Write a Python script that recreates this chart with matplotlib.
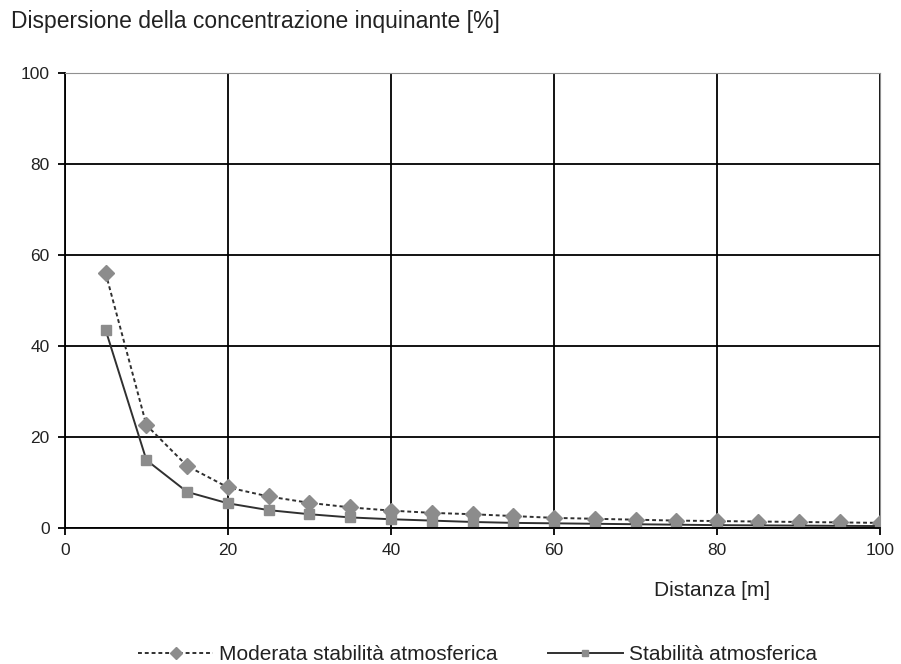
import numpy as np
import matplotlib.pyplot as plt

plt.rcParams['font.family'] = ['Liberation Sans', 'DejaVu Sans']
plt.rcParams['text.color'] = '#222222'

dist = [5, 10, 15, 20, 25, 30, 35, 40, 45, 50, 55, 60, 65, 70, 75, 80, 85, 90, 95, 100]
moderata = [56, 22.6, 13.6, 8.9, 6.9, 5.5, 4.5, 3.8, 3.3, 3.0, 2.6, 2.2, 2.0, 1.8, 1.6, 1.5, 1.4, 1.3, 1.2, 1.1]
stabile = [43.5, 14.9, 7.9, 5.4, 3.9, 3.0, 2.3, 1.9, 1.6, 1.3, 1.1, 1.0, 0.9, 0.8, 0.7, 0.6, 0.55, 0.5, 0.45, 0.4]

fig = plt.figure(figsize=(9.01, 6.64), dpi=100)
ax = fig.add_axes([0.072, 0.205, 0.905, 0.685])

ax.plot(dist, moderata, linestyle=(0, (2, 1.5)), color='#303030', lw=1.4,
        marker='D', markersize=8.5, markerfacecolor='#8c8c8c', markeredgecolor='#8c8c8c',
        label='Moderata stabilità atmosferica')
ax.plot(dist, stabile, linestyle='-', color='#303030', lw=1.4,
        marker='s', markersize=6.5, markerfacecolor='#8c8c8c', markeredgecolor='#8c8c8c',
        label='Stabilità atmosferica')

ax.set_xlim(0, 100)
ax.set_ylim(0, 100)
ax.set_xticks(np.arange(0, 101, 20))
ax.set_yticks(np.arange(0, 101, 20))
ax.grid(True, color='black', lw=1.3)
ax.set_axisbelow(True)
for s in ['top', 'right']:
    ax.spines[s].set_color('#909090')
for s in ['left', 'bottom']:
    ax.spines[s].set_color('black')
    ax.spines[s].set_linewidth(1.3)
ax.tick_params(direction='out', length=5, width=1.3, labelsize=12.5, pad=6,
               labelcolor='#222222')

fig.text(0.012, 0.967, 'Dispersione della concentrazione inquinante [%]', fontsize=16.5,
         ha='left', va='center')
fig.text(0.855, 0.11, 'Distanza [m]', fontsize=15, ha='right', va='center')

fig.legend(loc='lower center', bbox_to_anchor=(0.53, -0.028), ncol=2, frameon=False,
           fontsize=15, columnspacing=2.4, handlelength=3.6, handletextpad=0.3,
           markerscale=0.7)

fig.savefig('out.png', dpi=100)
